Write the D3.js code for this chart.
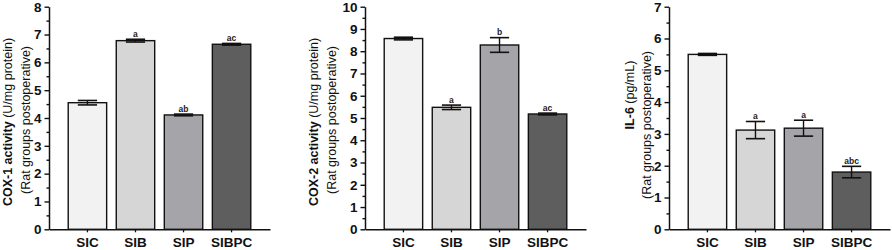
<!DOCTYPE html>
<html>
<head>
<meta charset="utf-8">
<script src="https://cdn.jsdelivr.net/npm/d3@7"></script>
<style>
  body { margin: 0; background: #fff; }
  svg { display: block; font-family: Arial, "Liberation Sans", sans-serif; }
</style>
</head>
<body>
<div id="chart"></div>
<script>
// Groups and their values
const groups = ["SIC", "SIB", "SIP", "SIBPC"];

const cox1Mean = [4.55, 6.78, 4.11, 6.65];
const cox1Err = [0.08, 0.05, 0.03, 0.03];
const cox1Sig = ["", "a", "ab", "ac"];

const cox2Mean = [8.57, 5.48, 8.28, 5.18];
const cox2Err = [0.06, 0.1, 0.33, 0.04];
const cox2Sig = ["", "a", "b", "ac"];

const il6Mean = [5.50, 3.12, 3.18, 1.80];
const il6Err = [0.03, 0.27, 0.25, 0.18];
const il6Sig = ["", "a", "a", "abc"];

const cox1Ticks = [0, 1, 2, 3, 4, 5, 6, 7, 8];
const cox2Ticks = [0, 1, 2, 3, 4, 5, 6, 7, 8, 9, 10];
const il6Ticks = [0, 1, 2, 3, 4, 5, 6, 7];

// fill per group
const fills = ["#f2f2f2", "#d6d6d6", "#a5a5a9", "#5e5e5e"];

const W = 892, H = 250;
const svg = d3.select("#chart").append("svg")
    .attr("width", W)
    .attr("height", H);

const plotTop = 6.7, plotBottom = 229.3;

function drawPanel(p) {
    const g = svg.append("g");

    const x = d3.scaleBand()
        .domain(groups)
        .range([p.left, p.left + 221])
        .paddingInner(0.2)
        .paddingOuter(0.4);

    const y = d3.scaleLinear()
        .domain([0, d3.max(p.ticks)])
        .range([plotBottom, plotTop]);

    const rows = groups.map((k, i) => ({ k, m: p.mean[i], e: p.err[i], s: p.sig[i], c: fills[i] }));

    // bars
    g.selectAll("rect.bar").data(rows).join("rect")
        .attr("class", "bar")
        .attr("x", d => x(d.k))
        .attr("y", d => y(d.m))
        .attr("width", x.bandwidth())
        .attr("height", d => y(0) - y(d.m))
        .attr("fill", d => d.c)
        .attr("stroke", "#111")
        .attr("stroke-width", 1.4);

    // error bars
    const capW = x.bandwidth() / 2;
    const eb = g.selectAll("g.err").data(rows).join("g")
        .attr("class", "err")
        .attr("transform", d => `translate(${x(d.k) + x.bandwidth() / 2},0)`);
    eb.append("line")
        .attr("y1", d => y(d.m + d.e))
        .attr("y2", d => y(d.m - d.e))
        .attr("stroke", "#111").attr("stroke-width", 1.4);
    eb.append("line")
        .attr("x1", -capW / 2).attr("x2", capW / 2)
        .attr("y1", d => y(d.m + d.e)).attr("y2", d => y(d.m + d.e))
        .attr("stroke", "#111").attr("stroke-width", 1.6);
    eb.append("line")
        .attr("x1", -capW / 2).attr("x2", capW / 2)
        .attr("y1", d => y(d.m - d.e)).attr("y2", d => y(d.m - d.e))
        .attr("stroke", "#111").attr("stroke-width", 1.6);

    // significance letters
    eb.append("text")
        .attr("y", d => y(d.m + d.e) - 2.5)
        .attr("text-anchor", "middle")
        .attr("font-size", 8.5)
        .attr("font-weight", "bold")
        .attr("fill", "#222")
        .text(d => d.s);

    // y axis, major + minor ticks
    const minor = d3.range(0.5, d3.max(p.ticks), 1);
    g.append("g")
        .attr("transform", `translate(${p.left},0)`)
        .call(d3.axisLeft(y).tickValues(minor).tickSize(2.5).tickFormat(""))
        .call(a => a.select(".domain").remove());
    const ya = g.append("g")
        .attr("class", "y-axis")
        .attr("transform", `translate(${p.left},0)`)
        .call(d3.axisLeft(y).tickValues(p.ticks).tickFormat(d3.format("d"))
            .tickSize(4.5).tickSizeOuter(0).tickPadding(3));
    ya.selectAll("text")
        .attr("font-size", 13.5)
        .attr("font-weight", "bold")
        .attr("font-family", "Arial, 'Liberation Sans', sans-serif")
        .attr("fill", "#111");
    g.selectAll(".tick line")
        .attr("stroke", "#111").attr("stroke-width", 1.4);
    ya.select(".domain").attr("stroke", "#111").attr("stroke-width", 1.5);

    // x axis
    const xa = g.append("g")
        .attr("class", "x-axis")
        .attr("transform", `translate(0,${plotBottom})`)
        .call(d3.axisBottom(x).tickSize(3).tickSizeOuter(0).tickPadding(5));
    xa.select(".domain").attr("stroke", "#111").attr("stroke-width", 1.5);
    xa.selectAll("line").attr("stroke", "#111").attr("stroke-width", 1.3);
    xa.selectAll("text")
        .attr("font-size", 13.5)
        .attr("font-weight", "bold")
        .attr("font-family", "Arial, 'Liberation Sans', sans-serif")
        .attr("fill", "#111");

    // y title (two lines)
    const t1 = g.append("text")
        .attr("transform", `translate(${p.t1x},${p.t1y}) rotate(-90)`)
        .attr("text-anchor", "middle")
        .attr("font-size", 12.5)
        .attr("fill", "#111");
    t1.append("tspan").attr("font-weight", "bold").text(p.title);
    t1.append("tspan").text(" " + p.unit);
    g.append("text")
        .attr("transform", `translate(${p.t2x},${p.t2y}) rotate(-90)`)
        .attr("text-anchor", "middle")
        .attr("font-size", 12.5)
        .attr("fill", "#111")
        .text("(Rat groups postoperative)");
}

drawPanel({ left: 49, ticks: cox1Ticks, mean: cox1Mean, err: cox1Err, sig: cox1Sig,
    title: "COX-1 activity", unit: "(U/mg protein)", t1x: 12, t1y: 122, t2x: 30, t2y: 120 });
drawPanel({ left: 365, ticks: cox2Ticks, mean: cox2Mean, err: cox2Err, sig: cox2Sig,
    title: "COX-2 activity", unit: "(U/mg protein)", t1x: 318, t1y: 122, t2x: 336, t2y: 120 });
drawPanel({ left: 669, ticks: il6Ticks, mean: il6Mean, err: il6Err, sig: il6Sig,
    title: "IL-6", unit: "(pg/mL)", t1x: 634, t1y: 95, t2x: 650.5, t2y: 125 });
</script>
</body>
</html>
